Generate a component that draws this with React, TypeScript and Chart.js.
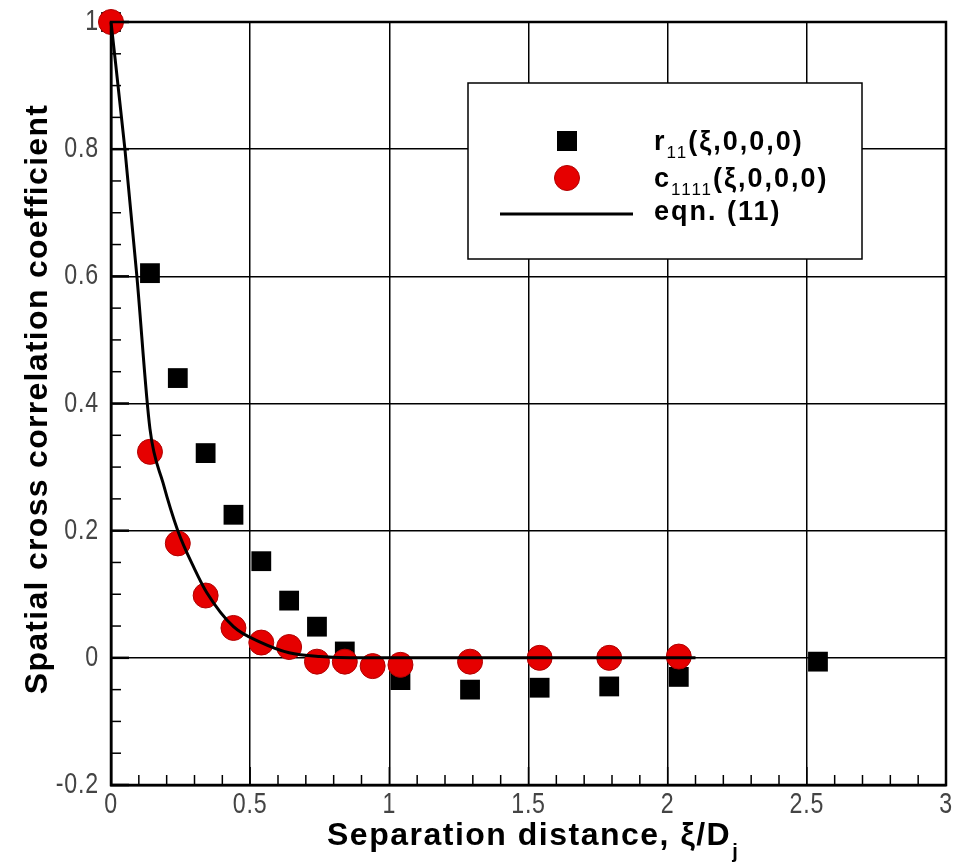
import React, { useEffect, useRef } from "react";
import { Chart, registerables } from "chart.js";

Chart.register(...registerables);

// ---- data ----
const rX = [0, 0.14, 0.24, 0.34, 0.44, 0.54, 0.64, 0.74, 0.84, 1.04, 1.29, 1.54, 1.79, 2.04, 2.54];
const rY = [1, 0.605, 0.44, 0.322, 0.225, 0.152, 0.09, 0.049, 0.01, -0.035, -0.05, -0.047, -0.045, -0.03, -0.006];

const cX = [0, 0.14, 0.24, 0.34, 0.44, 0.54, 0.64, 0.74, 0.84, 0.94, 1.04, 1.29, 1.54, 1.79, 2.04];
const cY = [1, 0.324, 0.18, 0.098, 0.047, 0.024, 0.017, -0.006, -0.006, -0.013, -0.011, -0.006, 0.0, 0.0, 0.002];

const eqX = [0, 0.05, 0.093, 0.14, 0.187, 0.24, 0.3, 0.345, 0.44, 0.54, 0.64, 0.75, 0.9, 1.2, 1.6, 2.1];
const eqY = [1, 0.8, 0.6, 0.36, 0.275, 0.2, 0.14, 0.102, 0.049, 0.024, 0.008, 0.002, 0, 0, 0, 0];

const xTicks = [0, 0.5, 1, 1.5, 2, 2.5, 3];
const yTicks = [-0.2, 0, 0.2, 0.4, 0.6, 0.8, 1];

const legendLabels = ["r", "c", "eqn. (11)"];
const legendSubs = ["11", "1111", ""];
const legendTail = "(ξ,0,0,0)";

const xTitle = "Separation distance, ξ/D";
const xTitleSub = "j";
const yTitle = "Spatial cross correlation coefficient";

const BOLD = "'Liberation Sans', Arial, sans-serif";

const pairs = (xs: number[], ys: number[]) => xs.map((x, i) => ({ x, y: ys[i] }));
const fmt = (v: number) => String(Number(v.toFixed(1)));

const decorPlugin = {
  id: "decor",
  beforeDatasetsDraw(chart: any) {
    const { ctx, chartArea: a, scales } = chart;
    const xs = scales.x;
    const ys = scales.y;
    ctx.save();
    ctx.strokeStyle = "#000";
    ctx.lineWidth = 1.5;
    for (let i = 0; i <= 30; i++) {
      const px = xs.getPixelForValue(i / 10);
      const len = i % 5 === 0 ? 18 : 10;
      ctx.beginPath();
      ctx.moveTo(px, a.bottom);
      ctx.lineTo(px, a.bottom - len);
      ctx.stroke();
    }
    for (let i = -4; i <= 20; i++) {
      const py = ys.getPixelForValue(i / 20);
      const len = i % 4 === 0 ? 18 : 10;
      ctx.lineWidth = i % 4 === 0 ? 2.5 : 1.5;
      ctx.beginPath();
      ctx.moveTo(a.left, py);
      ctx.lineTo(a.left + len, py);
      ctx.stroke();
    }
    ctx.restore();
  },
  afterDraw(chart: any) {
    const { ctx, chartArea: a, scales } = chart;
    ctx.save();
    ctx.strokeStyle = "#000";
    ctx.lineWidth = 2.5;
    ctx.strokeRect(a.left, a.top, a.right - a.left, a.bottom - a.top);

    // tick labels (condensed)
    ctx.fillStyle = "#444";
    ctx.font = `29px ${BOLD}`;
    ctx.textBaseline = "middle";
    const sx = 0.8;
    (ctx as any).letterSpacing = "1px";
    for (const v of xTicks) {
      const px = scales.x.getPixelForValue(v);
      const t = fmt(v);
      const w = ctx.measureText(t).width * sx;
      ctx.save();
      ctx.translate(px - w / 2, 805);
      ctx.scale(sx, 1);
      ctx.textAlign = "left";
      ctx.fillText(t, 0, 0);
      ctx.restore();
    }
    for (const v of yTicks) {
      const py = scales.y.getPixelForValue(v);
      const t = fmt(v);
      const w = ctx.measureText(t).width * sx;
      ctx.save();
      ctx.translate(99 - w, py);
      ctx.scale(sx, 1);
      ctx.textAlign = "left";
      ctx.fillText(t, 0, 0);
      ctx.restore();
    }

    // legend box
    const bx = 468, by = 83, bw = 394, bh = 176;
    ctx.fillStyle = "#fff";
    ctx.fillRect(bx, by, bw, bh);
    ctx.strokeStyle = "#000";
    ctx.lineWidth = 1.5;
    ctx.strokeRect(bx, by, bw, bh);

    ctx.fillStyle = "#000";
    ctx.fillRect(567 - 10, 141 - 10, 20, 20);
    ctx.beginPath();
    ctx.arc(567, 178, 12.5, 0, Math.PI * 2);
    ctx.fillStyle = "#e60000";
    ctx.fill();
    ctx.strokeStyle = "#b00000";
    ctx.lineWidth = 1;
    ctx.stroke();
    ctx.beginPath();
    ctx.moveTo(500, 214);
    ctx.lineTo(633, 214);
    ctx.strokeStyle = "#000";
    ctx.lineWidth = 3;
    ctx.stroke();

    const rowsY = [143, 180, 213];
    ctx.fillStyle = "#000";
    ctx.textBaseline = "middle";
    ctx.textAlign = "left";
    (ctx as any).letterSpacing = "2px";
    for (let i = 0; i < 3; i++) {
      let x = 654;
      ctx.font = `bold 27px ${BOLD}`;
      ctx.fillText(legendLabels[i], x, rowsY[i]);
      x += ctx.measureText(legendLabels[i]).width;
      if (legendSubs[i]) {
        ctx.font = `17px ${BOLD}`;
        ctx.fillText(legendSubs[i], x, rowsY[i] + 10);
        x += ctx.measureText(legendSubs[i]).width;
        ctx.font = `bold 27px ${BOLD}`;
        ctx.fillText(legendTail, x, rowsY[i]);
      }
    }

    // x title
    (ctx as any).letterSpacing = "1.5px";
    ctx.font = `bold 32px ${BOLD}`;
    const w1 = ctx.measureText(xTitle).width;
    const tx = 327;
    ctx.fillText(xTitle, tx, 836);
    ctx.font = `bold 20px ${BOLD}`;
    ctx.fillText(xTitleSub, tx + w1 + 1, 852);

    // y title
    ctx.save();
    (ctx as any).letterSpacing = "1.3px";
    ctx.translate(38, 399);
    ctx.rotate(-Math.PI / 2);
    ctx.textAlign = "center";
    ctx.font = `bold 32px ${BOLD}`;
    ctx.fillText(yTitle, 0, 0);
    ctx.restore();

    ctx.restore();
  },
};

export default function App() {
  const ref = useRef<HTMLCanvasElement>(null);

  useEffect(() => {
    const canvas = ref.current!;
    const chart = new Chart(canvas, {
      type: "scatter",
      data: {
        datasets: [
          {
            label: "eqn. (11)",
            type: "line",
            data: pairs(eqX, eqY),
            borderColor: "#000",
            borderWidth: 3,
            pointRadius: 0,
            showLine: true,
            fill: false,
            cubicInterpolationMode: "monotone",
            clip: false,
            order: 0,
          } as any,
          {
            label: "c1111",
            data: pairs(cX, cY),
            pointStyle: "circle",
            pointRadius: 12.5,
            backgroundColor: "#e60000",
            borderColor: "#b00000",
            borderWidth: 1,
            clip: false,
            order: 1,
          } as any,
          {
            label: "r11",
            data: pairs(rX, rY),
            pointStyle: "rect",
            pointRadius: 14,
            backgroundColor: "#000",
            borderColor: "#000",
            borderWidth: 0,
            clip: false,
            order: 2,
          } as any,
        ],
      },
      options: {
        animation: false,
        responsive: false,
        layout: { autoPadding: false, padding: { top: 22, right: 8, left: 0, bottom: 0 } },
        plugins: { legend: { display: false }, tooltip: { enabled: false } },
        scales: {
          x: {
            type: "linear",
            min: 0,
            max: 3,
            afterBuildTicks: (s: any) => {
              s.ticks = xTicks.map((v) => ({ value: v }));
            },
            afterFit: (s: any) => {
              s.height = 82;
              s.paddingLeft = 0;
              s.paddingRight = 0;
            },
            ticks: { display: false },
            grid: { color: "#000", lineWidth: 1.5, drawTicks: false },
            border: { display: true, color: "#000", width: 2.5 },
          },
          y: {
            type: "linear",
            min: -0.2,
            max: 1,
            afterBuildTicks: (s: any) => {
              s.ticks = yTicks.map((v) => ({ value: v }));
            },
            afterFit: (s: any) => {
              s.width = 111;
              s.paddingTop = 0;
              s.paddingBottom = 0;
            },
            ticks: { display: false },
            grid: { color: "#000", lineWidth: 1.5, drawTicks: false },
            border: { display: true, color: "#000", width: 2.5 },
          },
        },
      },
      plugins: [decorPlugin],
    });
    return () => chart.destroy();
  }, []);

  return (
    <div style={{ position: "fixed", left: 0, top: 0, width: 954, height: 867, background: "#fff" }}>
      <canvas ref={ref} width={954} height={867} style={{ display: "block" }} />
    </div>
  );
}
